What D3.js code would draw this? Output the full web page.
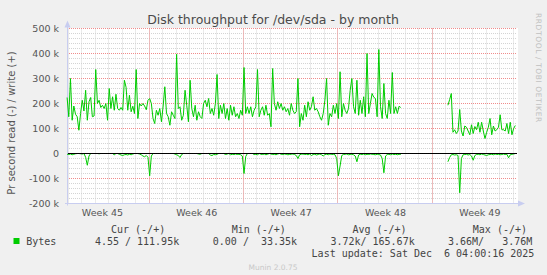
<!DOCTYPE html>
<html>
<head>
<meta charset="utf-8">
<script src="https://cdn.jsdelivr.net/npm/d3@7"></script>
<style>
	html, body { margin: 0; padding: 0; background: #f0f0f0; }
	svg { display: block; }
	text { font-family: "DejaVu Sans", sans-serif; }
	.mono { font-family: "DejaVu Sans Mono", monospace; white-space: pre; }
</style>
</head>
<body>
<div id="chart"></div>
<script>
(function() {
	var w = 547, h = 275,
		plot = {left: 67, right: 517, top: 28.5, bottom: 203.5},
		lineColor = "#00cc00",
		axisColor = "#c8cdf0",
		fontColor = "#555"

	// visible time window and sample starts (3 hour samples)
	var startTime = new Date(2025, 10, 2, 21, 50),
		endTime = new Date(2025, 11, 6, 7, 0),
		startA = new Date(2025, 10, 2, 22, 0),
		startB = new Date(2025, 11, 1, 4, 0),
		stepHours = 3

	// write (+) and read (-) in kB/s
	var writeA = [224,147,300,133,190,157,147,93,160,213,
		170,253,133,207,224,147,150,336,200,213,
		184,193,180,200,133,260,180,227,173,237,
		180,173,184,173,293,265,173,233,167,189,
		160,336,140,200,190,200,190,175,213,
		220,200,140,120,173,153,180,127,190,267,
		160,147,113,167,153,140,397,180,187,133,
		153,253,193,127,293,
		180,147,193,133,167,147,140,200,213,187,220,160,180,153,200,316,
		140,193,160,200,140,180,133,193,153,187,147,160,140,173,153,
		344,160,187,160,187,147,173,187,336,147,173,187,153,193,153,
		160,107,340,200,173,207,180,200,173,187,
		167,180,153,200,173,160,167,300,107,160,
		133,193,147,207,173,187,227,173,180,167,
		147,133,160,213,300,113,160,147,193,160,
		200,140,327,147,200,173,160,180,253,300,
		187,160,293,153,213,160,227,147,400,160,
		200,240,225,220,147,416,187,140,280,160,
		140,213,160,324,160,187,160,189,184]

	var readA = [3,4,2,5,3,1,0,0,1,2,
		0,15,47,10,0,0,0,0,0,1,
		0,0,0,0,0,0,0,0,5,0,
		0,3,6,8,5,4,6,3,5,2,
		0,0,0,2,5,10,13,8,15,
		89,10,0,0,0,0,0,0,0,0,
		0,0,0,0,0,2,5,8,16,4,
		0,0,0,0,0,
		0,0,0,0,2,3,0,0,0,0,0,6,8,4,5,3,
		0,0,0,0,4,2,0,5,3,4,2,4,3,5,10,
		80,12,0,0,0,0,4,3,5,0,3,4,2,5,3,
		0,2,4,3,5,2,0,3,4,2,
		3,5,4,3,2,4,8,20,5,3,
		2,4,3,5,2,8,4,3,6,4,
		2,5,10,4,3,5,2,4,3,5,
		20,89,50,8,4,3,2,5,4,3,
		5,10,33,6,3,4,2,5,3,4,
		2,3,4,5,3,4,6,20,77,10,
		4,3,5,2,4,3,5,3,4]

	var writeB = [193,215,240,85,95,80,90,176,90,70,
		110,105,90,75,115,80,108,95,125,85,
		125,90,60,85,105,140,75,110,90,95,
		105,155,95,95,90,120,80,125,75,100,
		112]

	var readB = [33,16,5,4,6,5,8,157,20,5,
		4,3,6,4,10,27,8,4,3,5,
		2,4,6,8,5,4,3,5,2,4,
		3,5,4,2,4,3,17,5,3,2,
		0]

	var yTicks = [-200000, -100000, 0, 100000, 200000, 300000, 400000, 500000],
		yTickLabels = ["-200 k", "-100 k", "0", "100 k", "200 k", "300 k", "400 k", "500 k"],
		weekLabels = ["Week 45", "Week 46", "Week 47", "Week 48", "Week 49"]

	var title = "Disk throughput for /dev/sda - by month",
		yLabel = "Pr second read (-) / write (+)",
		seriesName = "Bytes",
		legendHead = ["Cur (-/+)", "Min (-/+)", "Avg (-/+)", "Max (-/+)"],
		legendVals = ["4.55 / 111.95k", "0.00 /  33.35k", "3.72k/ 165.67k", "3.66M/   3.76M"],
		lastUpdate = "Last update: Sat Dec  6 04:00:16 2025"

	var toRows = (start, ws, rs) => ws.map((v, i) => ({
		t: d3.timeHour.offset(start, i * stepHours),
		write: v * 1000,
		read: rs[i] * 1000
	}))
	var segments = [toRows(startA, writeA, readA), toRows(startB, writeB, readB)]

	var svg = d3.select("#chart").append("svg")
		.attr("width", w)
		.attr("height", h)

	svg.append("rect").attr("width", w).attr("height", h).attr("fill", "#f0f0f0")

	var x = d3.scaleTime()
		.domain([startTime, endTime])
		.range([plot.left, plot.right])

	var y = d3.scaleLinear()
		.domain([-200000, 500000])
		.range([plot.bottom, plot.top])

	var px = v => Math.floor(v) + 0.5

	// canvas
	svg.append("rect")
		.attr("x", plot.left).attr("y", plot.top - 0.5)
		.attr("width", plot.right - plot.left + 1)
		.attr("height", plot.bottom - plot.top + 1)
		.attr("fill", "#fff")

	// minor grid
	var grid = svg.append("g").attr("fill", "none").attr("stroke-dasharray", "1,1")
	grid.selectAll(".vmin")
		.data(d3.timeDay.range(startTime, endTime))
		.enter().append("line")
		.attr("x1", d => px(x(d))).attr("x2", d => px(x(d)))
		.attr("y1", plot.top).attr("y2", plot.bottom)
		.attr("stroke", "#d4d4d4")
	grid.selectAll(".hmin")
		.data(d3.range(-200000, 500001, 20000))
		.enter().append("line")
		.attr("x1", plot.left).attr("x2", plot.right)
		.attr("y1", d => y(d)).attr("y2", d => y(d))
		.attr("stroke", "#d4d4d4")

	// major grid
	grid.selectAll(".vmaj")
		.data(d3.timeSunday.range(startTime, endTime))
		.enter().append("line")
		.attr("x1", d => px(x(d))).attr("x2", d => px(x(d)))
		.attr("y1", plot.top).attr("y2", plot.bottom)
		.attr("stroke", "#f08c8c")
	grid.selectAll(".hmaj")
		.data(yTicks)
		.enter().append("line")
		.attr("x1", plot.left).attr("x2", plot.right)
		.attr("y1", d => y(d)).attr("y2", d => y(d))
		.attr("stroke", "#f08c8c")

	// axes lines + arrows
	svg.append("line")
		.attr("x1", plot.left + 0.5).attr("x2", plot.left + 0.5)
		.attr("y1", plot.top - 2).attr("y2", plot.bottom + 2)
		.attr("stroke", axisColor)
	svg.append("line")
		.attr("x1", plot.left - 2).attr("x2", plot.right + 2)
		.attr("y1", plot.bottom).attr("y2", plot.bottom)
		.attr("stroke", axisColor)
	svg.append("path")
		.attr("d", "M" + (plot.left - 2.5) + "," + (plot.top - 1) + "L" + (plot.left + 0.5) + "," + (plot.top - 8) +
			"L" + (plot.left + 3.5) + "," + (plot.top - 1) + "Z")
		.attr("fill", axisColor)
	svg.append("path")
		.attr("d", "M" + (plot.right + 1) + "," + (plot.bottom - 3) + "L" + (plot.right + 8) + "," + plot.bottom +
			"L" + (plot.right + 1) + "," + (plot.bottom + 3) + "Z")
		.attr("fill", axisColor)

	// y axis labels
	var yAxis = d3.axisLeft(y)
		.tickValues(yTicks)
		.tickFormat((d, i) => yTickLabels[i])
		.tickSize(0)
		.tickPadding(8)
	var gy = svg.append("g")
		.attr("transform", "translate(" + plot.left + ",0)")
		.call(yAxis)
	gy.select(".domain").remove()
	gy.selectAll("text")
		.style("font-family", "DejaVu Sans")
		.style("font-size", "9.5px")
		.attr("fill", fontColor)

	// x axis labels, centred on each week
	var weekMids = d3.timeSunday.range(d3.timeSunday.floor(startTime), endTime)
		.map(d => d3.timeHour.offset(d, 84))
	var xAxis = d3.axisBottom(x)
		.tickValues(weekMids)
		.tickFormat((d, i) => weekLabels[i])
		.tickSize(0)
		.tickPadding(6)
	var gx = svg.append("g")
		.attr("transform", "translate(0," + plot.bottom + ")")
		.call(xAxis)
	gx.select(".domain").remove()
	gx.selectAll("text")
		.style("font-family", "DejaVu Sans")
		.style("font-size", "9.5px")
		.attr("fill", fontColor)

	// data lines
	var line = key => d3.line()
		.x(d => x(d.t))
		.y(d => y(key === "read" ? -d.read : d.write))

	segments.forEach(seg => {
		svg.append("path")
			.datum(seg)
			.attr("d", line("write"))
			.attr("fill", "none")
			.attr("stroke", lineColor)
			.attr("stroke-width", 1)
		svg.append("path")
			.datum(seg)
			.attr("d", line("read"))
			.attr("fill", "none")
			.attr("stroke", lineColor)
			.attr("stroke-width", 1)
	})

	// zero rule
	svg.append("line")
		.attr("x1", plot.left + 1).attr("x2", plot.right)
		.attr("y1", y(0)).attr("y2", y(0))
		.attr("stroke", "#000")

	// title and labels
	svg.append("text")
		.attr("x", 273).attr("y", 24)
		.attr("text-anchor", "middle")
		.style("font-size", "12.5px")
		.attr("fill", "#4a4a4a")
		.text(title)

	svg.append("text")
		.attr("transform", "translate(15,123) rotate(-90)")
		.attr("text-anchor", "middle")
		.style("font-size", "10px")
		.attr("fill", fontColor)
		.text(yLabel)

	svg.append("text")
		.attr("transform", "translate(536,13) rotate(90)")
		.attr("text-anchor", "start")
		.style("font-size", "7.5px")
		.style("letter-spacing", "0.6px")
		.attr("fill", "#c0c0c0")
		.text("RRDTOOL / TOBI OETIKER")

	// legend
	var headX = [111, 231.7, 352.4, 472.8],
		valX = [94.9, 212.8, 330.4, 448]
	svg.selectAll(".head")
		.data(legendHead)
		.enter().append("text")
		.attr("class", "mono")
		.attr("x", (d, i) => headX[i]).attr("y", 233)
		.style("font-size", "10px")
		.attr("fill", "#444")
		.text(d => d)
	svg.append("rect")
		.attr("x", 13.5).attr("y", 238).attr("width", 6).attr("height", 6)
		.attr("fill", lineColor)
	svg.append("text")
		.attr("class", "mono")
		.attr("x", 26.2).attr("y", 245)
		.style("font-size", "10px")
		.attr("fill", "#444")
		.text(seriesName)
	svg.selectAll(".vals")
		.data(legendVals)
		.enter().append("text")
		.attr("class", "mono")
		.attr("x", (d, i) => valX[i]).attr("y", 245)
		.style("font-size", "10px")
		.attr("fill", "#444")
		.text(d => d)
	svg.append("text")
		.attr("class", "mono")
		.attr("x", 311.6).attr("y", 257)
		.style("font-size", "10px")
		.attr("fill", "#444")
		.text(lastUpdate)

	svg.append("text")
		.attr("x", 273).attr("y", 270)
		.attr("text-anchor", "middle")
		.style("font-size", "7.5px")
		.attr("fill", "#c8c8c8")
		.text("Munin 2.0.75")
})()
</script>
</body>
</html>
